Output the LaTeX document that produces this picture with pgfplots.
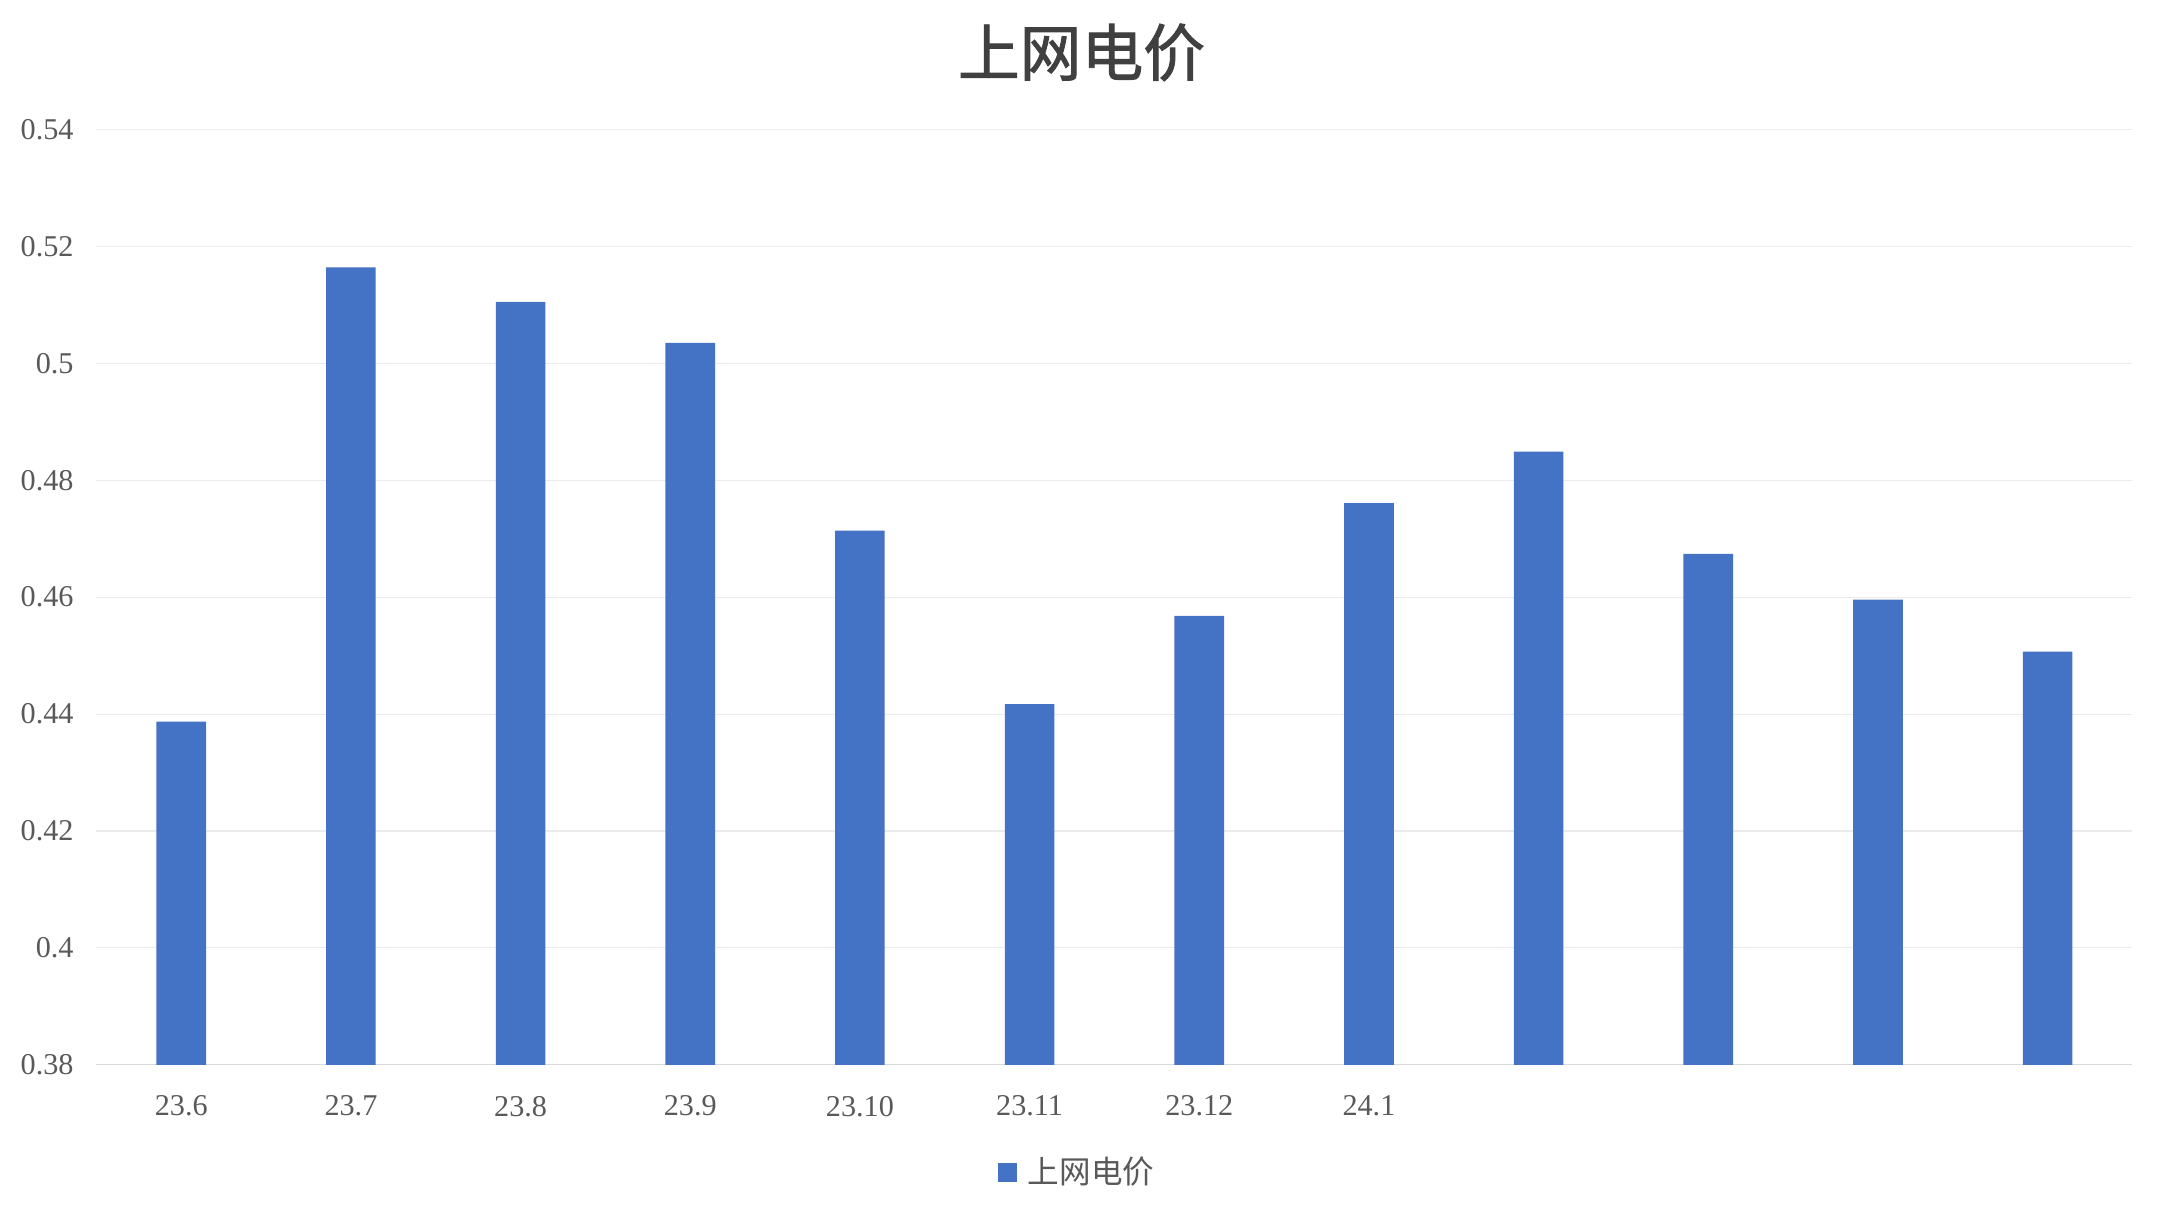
\documentclass[border=0pt]{standalone}
\usepackage{fontspec}
\setmainfont{Liberation Serif}
\newfontfamily\cjk{Noto Sans CJK SC}
\newfontfamily\cjktitle[FakeBold=1.5]{Noto Sans CJK SC}
\usepackage{pgfplots}
\pgfplotsset{compat=1.18}
\definecolor{barblue}{HTML}{4472C4}
\definecolor{ticktext}{HTML}{595959}
\definecolor{gridgray}{HTML}{EBEBEB}
\definecolor{basegray}{HTML}{D9D9D9}
\definecolor{titlegray}{HTML}{404040}
\begin{document}
\begin{tikzpicture}
\begin{axis}[
    name=ax,
    scale only axis, width=739bp, height=339.5bp,
    ybar, bar width=18bp,
    xmin=-0.5, xmax=11.5,
    ymin=0.38, ymax=0.54,
    ytick={0.38,0.40,0.42,0.44,0.46,0.48,0.50,0.52,0.54},
    xtick={0,...,11},
    xticklabels={23.6,23.7,23.8,23.9,23.10,23.11,23.12,24.1,,,,},
    /pgf/number format/assume math mode=true,
    axis x line*=bottom, axis y line*=left,
    x axis line style={draw=basegray, -},
    y axis line style={draw=none},
    major tick length=0pt,
    ymajorgrids, grid style={draw=gridgray},
    tick label style={font=\fontsize{11}{13}\selectfont, text=ticktext},
    xticklabel style={anchor=center, yshift=-15bp},
    yticklabel style={anchor=east, xshift=-4.8bp},
    title={\cjktitle 上网电价},
    title style={at={(0.4838,1)}, anchor=center, yshift=22bp,
        font=\fontsize{22.5}{26}\selectfont, text=titlegray},
    legend style={at={(0.4824,-0.1149)}, anchor=center, draw=none,
        font=\cjk\fontsize{11.5}{13}\selectfont, text=ticktext,
        /tikz/every even column/.append style={column sep=2bp}},
    legend image code/.code={\fill[barblue] (0bp,-3.5bp) rectangle (7bp,3.5bp);},
]
\addplot[fill=barblue, draw=none] coordinates {
    (0,0.4387) (1,0.5164) (2,0.5105) (3,0.5035) (4,0.4714) (5,0.4417)
    (6,0.4568) (7,0.4761) (8,0.4849) (9,0.4674) (10,0.4596) (11,0.4507)
};
\addlegendentry{\hspace{2bp}上网电价}
\end{axis}
\path ([xshift=-35bp,yshift=-55bp]ax.south west) rectangle ([xshift=10bp,yshift=47bp]ax.north east);
\end{tikzpicture}
\end{document}
